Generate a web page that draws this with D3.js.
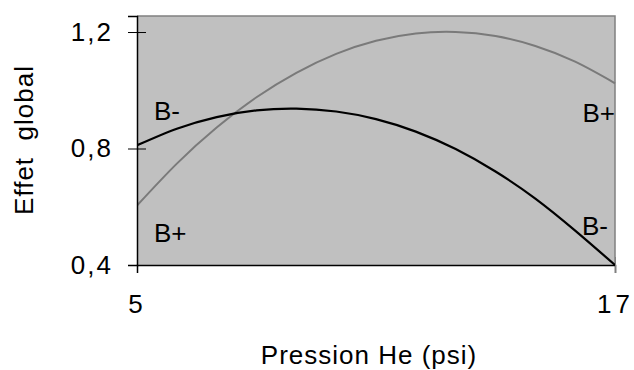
<!DOCTYPE html>
<html>
<head>
<meta charset="utf-8">
<script src="https://cdn.jsdelivr.net/npm/d3@7"></script>
<style>
  html, body { margin: 0; padding: 0; background: #ffffff; }
  svg { display: block; }
  text { font-family: "Liberation Sans", Arial, sans-serif; fill: #000; }
</style>
</head>
<body>
<svg id="chart" width="634" height="370"></svg>
<script>
// Pression He (psi)
const pressions = [5, 6, 7, 8, 9, 10, 11, 12, 13, 14, 15, 16, 17];
// Effet global, niveau B+ (courbe grise)
const effetBplus = [0.604, 0.748, 0.872, 0.976, 1.060, 1.125, 1.170, 1.195, 1.200, 1.186, 1.152, 1.098, 1.024];
// Effet global, niveau B- (courbe noire)
const effetBmoins = [0.811, 0.868, 0.908, 0.931, 0.937, 0.927, 0.901, 0.858, 0.798, 0.721, 0.628, 0.518, 0.400];
const xTicks = [5, 17];
const yTicks = [0.4, 0.8, 1.2];
const yTickLabels = ["0,4", "0,8", "1,2"];

const svg = d3.select("#chart");
const plot = { left: 137, right: 615, top: 16, bottom: 265 };

const x = d3.scaleLinear().domain([5, 17]).range([plot.left, plot.right]);
const y = d3.scaleLinear().domain([0.4, 1.255]).range([plot.bottom, plot.top]);

// plot area
svg.append("rect")
  .attr("x", plot.left).attr("y", plot.top)
  .attr("width", plot.right - plot.left).attr("height", plot.bottom - plot.top)
  .attr("fill", "#c0c0c0");

// top and right border
svg.append("path")
  .attr("d", `M${plot.left},${plot.top}H${plot.right}V${plot.bottom}`)
  .attr("fill", "none").attr("stroke", "#808080").attr("stroke-width", 1.5);

svg.append("clipPath").attr("id", "plotclip")
  .append("rect")
  .attr("x", plot.left).attr("y", plot.top - 1)
  .attr("width", plot.right - plot.left + 1).attr("height", plot.bottom - plot.top + 2);

const line = d3.line().curve(d3.curveNatural)
  .x((d, i) => x(pressions[i])).y(d => y(d));

const curves = svg.append("g").attr("clip-path", "url(#plotclip)");
curves.append("path").datum(effetBplus)
  .attr("d", line).attr("fill", "none")
  .attr("stroke", "#7a7a7a").attr("stroke-width", 2);
curves.append("path").datum(effetBmoins)
  .attr("d", line).attr("fill", "none")
  .attr("stroke", "#000").attr("stroke-width", 2.2);

// y axis
const yAxis = svg.append("g")
  .attr("transform", `translate(${plot.left},0)`)
  .call(d3.axisLeft(y).tickValues(yTicks)
    .tickFormat((d, i) => yTickLabels[i]).tickSize(9).tickPadding(15));
yAxis.select(".domain").attr("stroke", "#000").attr("stroke-width", 1.5);
yAxis.selectAll(".tick line").attr("x1", 9).attr("stroke", "#000");
yAxis.selectAll(".tick text")
  .style("font-size", "26px").style("letter-spacing", "2px")
  .attr("font-family", null);

// x axis
const xAxis = svg.append("g")
  .attr("transform", `translate(0,${plot.bottom})`)
  .call(d3.axisBottom(x).tickValues(xTicks).tickSize(8).tickPadding(22)
    .tickFormat(d3.format("d")));
xAxis.select(".domain").attr("stroke", "#000").attr("stroke-width", 1.5);
xAxis.selectAll(".tick line").attr("y1", -8)
  .attr("stroke", (d, i) => i === 0 ? "#000" : "#808080");
xAxis.selectAll(".tick text")
  .style("font-size", "26px").style("letter-spacing", "4px")
  .attr("font-family", null);

// curve labels
const labels = [
  { t: "B-", xv: 5, yv: 0.811, dx: 17, dy: -25, anchor: "start" },
  { t: "B+", xv: 5, yv: 0.604, dx: 17, dy: 36, anchor: "start" },
  { t: "B+", xv: 17, yv: 1.024, dx: 0, dy: 39, anchor: "end" },
  { t: "B-", xv: 17, yv: 0.400, dx: -7, dy: -30, anchor: "end" }
];
svg.append("g").selectAll("text").data(labels).join("text")
  .attr("x", d => x(d.xv) + d.dx).attr("y", d => y(d.yv) + d.dy)
  .attr("text-anchor", d => d.anchor)
  .style("font-size", "26px")
  .text(d => d.t);

// axis titles
svg.append("text")
  .attr("x", (plot.left + plot.right) / 2 - 7).attr("y", 364)
  .attr("text-anchor", "middle")
  .style("font-size", "26px").style("letter-spacing", "1px")
  .text("Pression He (psi)");

svg.append("text")
  .attr("transform", "translate(33,140) rotate(-90)")
  .attr("text-anchor", "middle")
  .style("font-size", "26px").style("letter-spacing", "1px")
  .attr("xml:space", "preserve")
  .text("Effet  global");
</script>
</body>
</html>
